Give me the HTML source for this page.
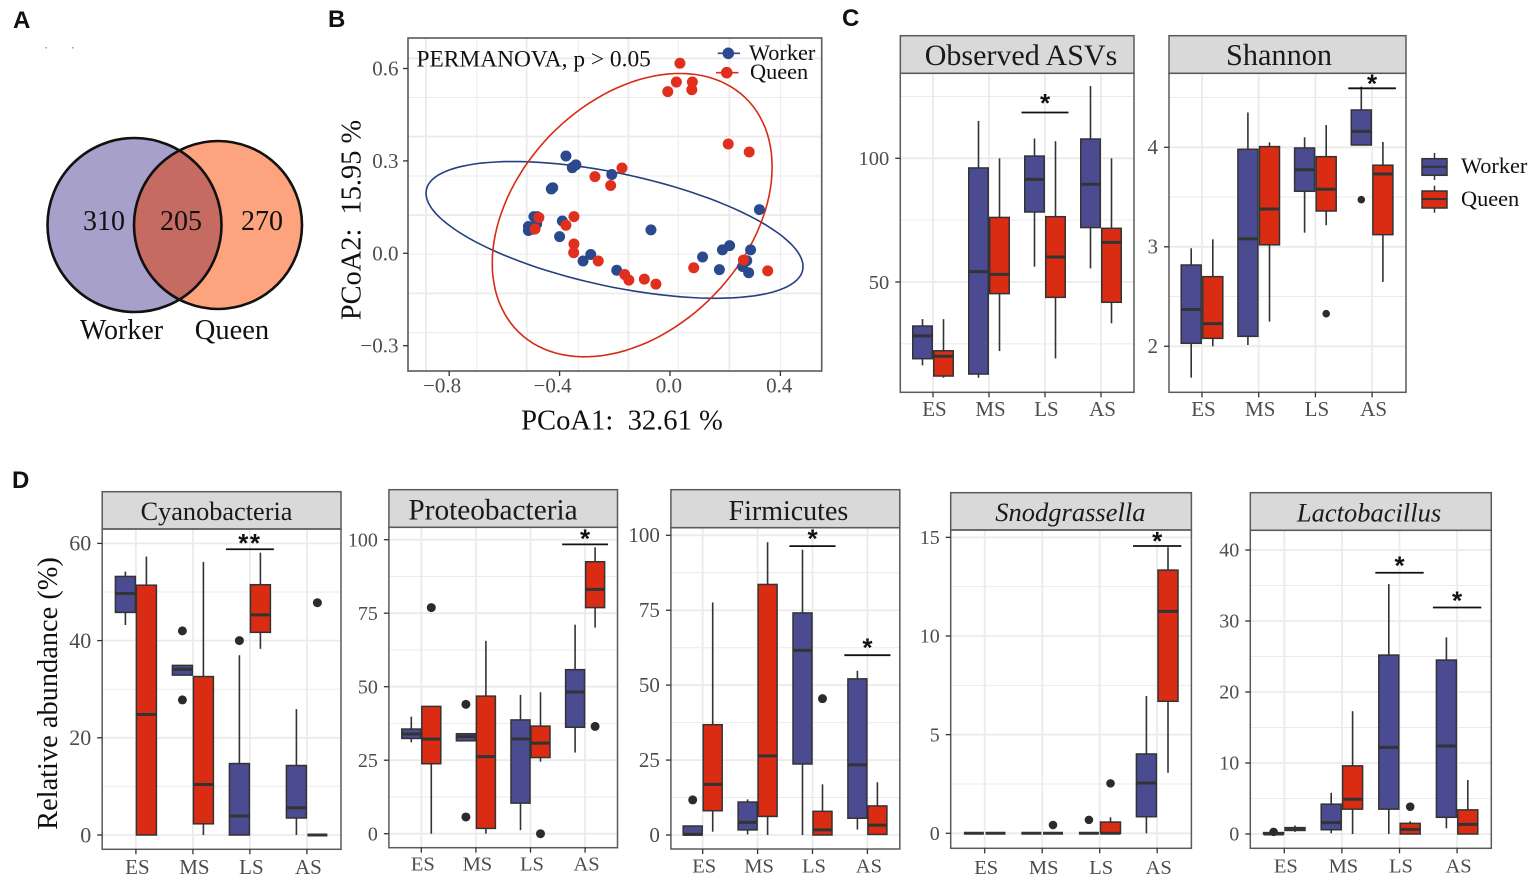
<!DOCTYPE html>
<html lang="en">
<head>
<meta charset="utf-8">
<title>Gut microbiota of worker and queen bees</title>
<style>
html,body{margin:0;padding:0;background:#fff;}
#figure{display:block;width:1535px;height:880px;font-family:"Liberation Serif",serif;}
.tick-label{fill:#4d4d4d;}
</style>
</head>
<body>
<svg id="figure" xmlns="http://www.w3.org/2000/svg" width="1535" height="880" viewBox="0 0 1535 880">
  <rect x="0" y="0" width="1535" height="880" fill="#ffffff"/>
  <g font-family="'Liberation Sans',sans-serif" font-weight="700" font-size="24" fill="#111">
    <text x="13" y="28">A</text>
    <text x="328" y="27">B</text>
    <text x="842" y="26">C</text>
    <text x="12" y="488">D</text>
  </g>
  <g>
    <defs>
      <clipPath id="left-clip"><circle cx="134.5" cy="225" r="87"/></clipPath>
    </defs>
    <rect x="45.5" y="47" width="1.5" height="1.5" fill="#999"/>
    <rect x="72" y="47" width="1.5" height="1.5" fill="#999"/>
    <circle cx="134.5" cy="225" r="87" fill="#a7a0cb"/>
    <circle cx="218" cy="225" r="84" fill="#fda37e"/>
    <circle cx="218" cy="225" r="84" fill="#c66b62" clip-path="url(#left-clip)"/>
    <circle cx="134.5" cy="225" r="87" fill="none" stroke="#111" stroke-width="2.6"/>
    <circle cx="218" cy="225" r="84" fill="none" stroke="#111" stroke-width="2.6"/>
    <g font-size="28" fill="#111" text-anchor="middle">
      <text x="104" y="230">310</text>
      <text x="181" y="230">205</text>
      <text x="262" y="230">270</text>
      <text x="121.5" y="339" font-size="28">Worker</text>
      <text x="232" y="339" font-size="28.5">Queen</text>
    </g>
  </g>
  <g id="pcoa"></g>
  <g id="boxes"></g>
  <g>
    <g>
      <line x1="1434.5" x2="1434.5" y1="153" y2="180" stroke="#333" stroke-width="1.5"/>
      <rect x="1422" y="158.7" width="25" height="16.6" fill="#4a4b90" stroke="#333" stroke-width="1.5"/>
      <line x1="1422" x2="1447" y1="166.7" y2="166.7" stroke="#333" stroke-width="2"/>
      <text x="1461" y="173" font-size="22.3" fill="#111">Worker</text>
    </g>
    <g>
      <line x1="1434.5" x2="1434.5" y1="185.7" y2="212.7" stroke="#333" stroke-width="1.5"/>
      <rect x="1422" y="191" width="25" height="17" fill="#da2c13" stroke="#333" stroke-width="1.5"/>
      <line x1="1422" x2="1447" y1="199" y2="199" stroke="#333" stroke-width="2"/>
      <text x="1461" y="206" font-size="22.3" fill="#111">Queen</text>
    </g>
  </g>
</svg>
<script>
/* ---------- PCoA data ---------- */
const pcoaWorkerX = [-0.377,-0.341,-0.354,-0.211,-0.425,-0.430,-0.493,-0.481,-0.483,-0.513,-0.513,-0.495,-0.390,-0.400,-0.287,-0.315,-0.193,-0.069,0.118,0.190,0.216,0.292,0.278,0.263,0.285,0.179,0.324];
const pcoaWorkerY = [0.316,0.287,0.278,0.256,0.213,0.209,0.119,0.119,0.095,0.087,0.074,0.078,0.105,0.054,-0.004,-0.025,-0.055,0.076,-0.012,0.011,0.025,0.011,-0.024,-0.043,-0.063,-0.053,0.142];
const pcoaQueenX = [0.036,0.023,0.081,-0.008,0.079,0.211,0.287,-0.174,-0.272,-0.215,-0.475,-0.489,-0.348,-0.377,-0.348,-0.349,-0.260,-0.164,-0.149,-0.093,-0.051,0.086,0.266,0.354];
const pcoaQueenY = [0.617,0.556,0.556,0.525,0.531,0.355,0.329,0.277,0.249,0.220,0.116,0.079,0.119,0.091,0.030,0.002,-0.025,-0.069,-0.087,-0.084,-0.100,-0.047,-0.022,-0.057];
/* ellipse: centre x, centre y, x radius, y radius, correlation */
const pcoaWorkerEllipse = [-0.201,0.076,0.683,0.222,-0.537];
const pcoaQueenEllipse = [-0.137,0.124,0.507,0.460,0.34];
const pcoaXTicks = [-0.8,-0.4,0,0.4];
const pcoaYTicks = [-0.3,0,0.3,0.6];
const pcoaGridX = [-0.884,-0.700,-0.519,-0.332,-0.151,0.030,0.215,0.400];
const pcoaGridY = [0.633,0.506,0.379,0.251,0.124,-0.003,-0.130,-0.258];

/* ---------- Boxplot data: [low whisker, q1, median, q3, high whisker] ---------- */
const stages = ['ES','MS','LS','AS'];

const asvWorker = [[16.3,19,28.2,32.2,35],[11.3,12.8,54.2,96.1,115.1],[56.2,78.3,91.5,100.9,108],[55.5,72,89.5,107.8,129.2]];
const asvQueen = [[11.3,12,20,22.2,35],[22.1,45.3,53.1,76.1,100],[19.1,43.8,60.1,76.4,106.9],[33.3,41.8,66,71.7,100]];
const asvOutliers = [];
const asvSig = [[2,118.5,'*']];
const asvTicks = [50,100];
const asvMinor = [25,75,125];

const shannonWorker = [[1.685,2.03,2.37,2.817,2.985],[2.013,2.10,3.08,3.98,4.35],[3.142,3.558,3.775,3.993,4.10],[4.023,4.023,4.16,4.375,4.61]];
const shannonQueen = [[2.0,2.08,2.228,2.70,3.075],[2.248,3.02,3.38,4.007,4.05],[3.216,3.36,3.578,3.906,4.224],[2.647,3.122,3.732,3.82,4.054]];
const shannonOutliers = [[2,1,2.328],[3,0,3.474]];
const shannonSig = [[3,4.593,'*']];
const shannonTicks = [2,3,4];
const shannonMinor = [2.5,3.5,4.5];

const cyanoWorker = [[43.2,45.8,49.7,53.2,54.2],[32.9,32.9,34.1,34.9,34.9],[0,0,3.9,14.7,37],[0,3.5,5.6,14.3,25.9]];
const cyanoQueen = [[0,0,24.8,51.4,57.3],[0,2.3,10.4,32.6,56.2],[38.3,41.7,45.3,51.5,58.1],[0,0,0,0,0]];
const cyanoOutliers = [[1,0,42],[1,0,27.8],[2,0,40],[3,1,47.8]];
const cyanoSig = [[2,58.8,'**']];
const cyanoTicks = [0,20,40,60];
const cyanoMinor = [10,30,50];

const proteoWorker = [[31.1,32.4,33.9,35.6,39.8],[31.6,31.6,33,34,34],[1.2,10.4,32.2,38.7,47.2],[27.6,36.2,48.2,55.8,71.1]];
const proteoQueen = [[0,23.8,32.2,43.3,43.3],[0,1.8,26.2,46.8,65.6],[24.5,25.9,30.8,36.6,48.1],[70.1,76.9,83.1,92.5,97.4]];
const proteoOutliers = [[0,1,76.9],[1,0,44],[1,0,5.7],[2,1,0],[3,1,36.5]];
const proteoSig = [[3,98.4,'*']];
const proteoTicks = [0,25,50,75,100];
const proteoMinor = [12.5,37.5,62.5,87.5];

const firmWorker = [[0,0,0.2,3,3],[0.2,1.7,4.2,11,11.9],[0,23.7,61.6,74.1,95.2],[1.8,5.6,23.4,52.1,54.8]];
const firmQueen = [[1.1,8.1,16.9,36.8,77.6],[0,6.2,26.4,83.6,97.7],[0,0,1.7,7.9,16.9],[0.2,0.2,3.3,9.7,17.6]];
const firmOutliers = [[0,0,11.7],[2,1,45.5]];
const firmSig = [[2,96.4,'*'],[3,60,'*']];
const firmTicks = [0,25,50,75,100];
const firmMinor = [12.5,37.5,62.5,87.5];

const snodWorker = [[0,0,0,0,0],[0,0,0,0,0],[0,0,0,0,0],[0,0.84,2.55,4.02,6.96]];
const snodQueen = [[0,0,0,0,0],[0,0,0,0,0],[0,0,0,0.57,0.81],[3.07,6.69,11.25,13.34,14.5]];
const snodOutliers = [[1,1,0.42],[2,0,0.68],[2,1,2.53]];
const snodSig = [[3,14.56,'*']];
const snodTicks = [0,5,10,15];
const snodMinor = [2.5,7.5,12.5];

const lactoWorker = [[0,0,0,0.2,0.2],[0.1,0.6,1.6,4.2,5.8],[0,3.5,12.2,25.2,35.2],[0.8,2.35,12.4,24.5,27.7]];
const lactoQueen = [[0.3,0.5,0.7,0.9,1.2],[0,3.5,4.9,9.6,17.3],[0,0,0.65,1.5,1.8],[0,0,1.35,3.4,7.6]];
const lactoOutliers = [[0,0,0.3],[2,1,3.85]];
const lactoSig = [[2,36.8,'*'],[3,31.9,'*']];
const lactoTicks = [0,10,20,30,40];
const lactoMinor = [5,15,25,35];

/* ---------- Panel layout ---------- */
const panels = [
  {key:'observed-asvs',title:'Observed ASVs',titleX:1021,titleBase:65,titleSize:30,left:900.3,right:1134,top:35.7,stripBottom:73.3,bottom:392.3,y0:405.7,yUnit:2.474,x0:933,step:56,off:10.5,w:19.5,labelY:416,tickSize:20.5,xSize:21,r:3.8,starGap:12.5,
   worker:asvWorker,queen:asvQueen,outliers:asvOutliers,sig:asvSig,ticks:asvTicks,minor:asvMinor},
  {key:'shannon',title:'Shannon',titleX:1279,titleBase:65,titleSize:30.3,left:1169,right:1406,top:35.7,stripBottom:73.3,bottom:392.3,y0:545.3,yUnit:99.5,x0:1202,step:56.7,off:10.8,w:20,labelY:416,tickSize:21,xSize:21,r:3.8,starGap:7.6,
   worker:shannonWorker,queen:shannonQueen,outliers:shannonOutliers,sig:shannonSig,ticks:shannonTicks,minor:shannonMinor},
  {key:'cyanobacteria',title:'Cyanobacteria',titleX:216.5,titleBase:520,titleSize:26.3,left:102.2,right:341,top:491.7,stripBottom:529,bottom:849.3,y0:835,yUnit:4.86,x0:135.9,step:57,off:10.5,w:20,labelY:874,tickSize:22,xSize:21,r:4.5,starGap:9,
   worker:cyanoWorker,queen:cyanoQueen,outliers:cyanoOutliers,sig:cyanoSig,ticks:cyanoTicks,minor:cyanoMinor},
  {key:'proteobacteria',title:'Proteobacteria',titleX:493,titleBase:519.7,titleSize:29.3,left:388.9,right:617.5,top:489.7,stripBottom:527.3,bottom:847.7,y0:833.7,yUnit:2.94,x0:421.3,step:54.6,off:10,w:19,labelY:870.7,tickSize:20,xSize:20.5,r:4.5,starGap:9,
   worker:proteoWorker,queen:proteoQueen,outliers:proteoOutliers,sig:proteoSig,ticks:proteoTicks,minor:proteoMinor},
  {key:'firmicutes',title:'Firmicutes',titleX:788.4,titleBase:520,titleSize:28,left:670.9,right:899.8,top:489.7,stripBottom:527.7,bottom:849,y0:835,yUnit:2.997,x0:702.7,step:54.9,off:10,w:19,labelY:872.7,tickSize:21,xSize:20.5,r:4.5,starGap:10.5,
   worker:firmWorker,queen:firmQueen,outliers:firmOutliers,sig:firmSig,ticks:firmTicks,minor:firmMinor},
  {key:'snodgrassella',title:'Snodgrassella',italic:true,titleX:1070.4,titleBase:521,titleSize:26.5,left:950.7,right:1191.4,top:492.7,stripBottom:530,bottom:848.3,y0:833.3,yUnit:19.73,x0:984.7,step:57.5,off:10.8,w:20,labelY:874,tickSize:20,xSize:20.5,r:4.3,starGap:8,
   worker:snodWorker,queen:snodQueen,outliers:snodOutliers,sig:snodSig,ticks:snodTicks,minor:snodMinor},
  {key:'lactobacillus',title:'Lactobacillus',italic:true,titleX:1369,titleBase:521.7,titleSize:26.5,left:1250.3,right:1491.3,top:492.7,stripBottom:530.3,bottom:848.3,y0:834,yUnit:7.1,x0:1284.3,step:57.6,off:10.7,w:20,labelY:872.7,tickSize:20,xSize:20.5,r:4.3,starGap:10
   ,worker:lactoWorker,queen:lactoQueen,outliers:lactoOutliers,sig:lactoSig,ticks:lactoTicks,minor:lactoMinor}
];

const NS = 'http://www.w3.org/2000/svg';
const WORKER_FILL = '#4a4b90';
const QUEEN_FILL = '#da2c13';
const INK = '#333333';
const FRAME = '#5a5a5a';
const GRID = '#ebebeb';

function svgEl(tag, attrs, parent, text) {
  const e = document.createElementNS(NS, tag);
  for (const k in attrs) e.setAttribute(k, attrs[k]);
  if (text !== undefined) e.textContent = text;
  parent.appendChild(e);
  return e;
}

/* ---------- PCoA ---------- */
function drawPcoa() {
  const root = document.getElementById('pcoa');
  const frame = {l:408, r:821.7, t:38, b:371};
  const px = v => 670 + 276 * v;
  const py = v => 253.3 - 308 * v;

  pcoaGridX.forEach((v, i) => {
    const g = svgEl('line', {x1:px(v), x2:px(v), y1:frame.t, y2:frame.b, stroke:GRID, 'stroke-width': i % 2 ? 1 : 1.8}, root);
    
    
  });
  pcoaGridY.forEach((v, i) => {
    const g = svgEl('line', {x1:frame.l, x2:frame.r, y1:py(v), y2:py(v), stroke:GRID, 'stroke-width': i % 2 ? 1 : 1.8}, root);
    
    
  });

  function ellipse(params, color, name) {
    const phi = Math.acos(params[4]);
    const pts = [];
    for (let i = 0; i <= 120; i++) {
      const t = i / 120 * 2 * Math.PI;
      const vx = params[0] + params[2] * Math.cos(t);
      const vy = params[1] + params[3] * Math.cos(t - phi);
      pts.push(px(vx).toFixed(1) + ',' + py(vy).toFixed(1));
    }
    const e = svgEl('polygon', {points:pts.join(' '), fill:'none', stroke:color, 'stroke-width':1.6}, root);
    
    
  }
  ellipse(pcoaWorkerEllipse, '#24407f', 'worker-ellipse');
  ellipse(pcoaQueenEllipse, '#d82a14', 'queen-ellipse');

  pcoaWorkerX.forEach((v, i) => {
    const c = svgEl('circle', {cx:px(v), cy:py(pcoaWorkerY[i]), r:5.5, fill:'#2b4a8d'}, root);
    
    
  });
  pcoaQueenX.forEach((v, i) => {
    const c = svgEl('circle', {cx:px(v), cy:py(pcoaQueenY[i]), r:5.5, fill:'#e02f1c'}, root);
    
    
  });

  const box = svgEl('rect', {x:frame.l, y:frame.t, width:frame.r-frame.l, height:frame.b-frame.t, fill:'none', stroke:FRAME, 'stroke-width':1.6}, root);
  
  

  const fmt = v => (v < 0 ? '\u2212' : '') + Math.abs(v).toFixed(1);
  pcoaXTicks.forEach(v => {
    const t = svgEl('line', {x1:px(v), x2:px(v), y1:frame.b, y2:frame.b+5, stroke:INK, 'stroke-width':1.3}, root);
    
    
    const l = svgEl('text', {x:px(v)+12, y:392.5, 'text-anchor':'end', 'font-size':21, class:'tick-label'}, root, fmt(v));
    
    
  });
  pcoaYTicks.forEach(v => {
    const t = svgEl('line', {x1:frame.l-5, x2:frame.l, y1:py(v), y2:py(v), stroke:INK, 'stroke-width':1.3}, root);
    
    
    const l = svgEl('text', {x:398.5, y:py(v)+7, 'text-anchor':'end', 'font-size':21, class:'tick-label'}, root, fmt(v));
    
    
  });

  const xt = svgEl('text', {x:622, y:429.5, 'text-anchor':'middle', 'font-size':28.6, fill:'#111', style:'white-space:pre'}, root, 'PCoA1:  32.61 %');
  
  
  const yt = svgEl('text', {x:0, y:0, 'text-anchor':'middle', 'font-size':28.4, fill:'#111', style:'white-space:pre', transform:'translate(360.5 220) rotate(-90)'}, root, 'PCoA2:  15.95 %');
  
  

  const perm = svgEl('text', {x:416.5, y:66.5, 'font-size':23.4, fill:'#111'}, root, 'PERMANOVA, p > 0.05');
  
  

  const keyW = svgEl('line', {x1:717.7, x2:740, y1:53.3, y2:53.3, stroke:'#2b4a8d', 'stroke-width':1.6}, root);
  
  
  const dotW = svgEl('circle', {cx:728.3, cy:53.3, r:5.8, fill:'#2b4a8d'}, root);
  
  
  const txtW = svgEl('text', {x:749, y:60, 'font-size':22.3, fill:'#111'}, root, 'Worker');
  
  
  const keyQ = svgEl('line', {x1:716, x2:738.5, y1:72.7, y2:72.7, stroke:'#e02f1c', 'stroke-width':1.6}, root);
  
  
  const dotQ = svgEl('circle', {cx:726.7, cy:72.7, r:5.8, fill:'#e02f1c'}, root);
  
  
  const txtQ = svgEl('text', {x:750, y:79, 'font-size':22.3, fill:'#111'}, root, 'Queen');
  
  
}

/* ---------- Box panels ---------- */
function drawBox(g, stats, cx, p, y, fill, name) {
  const bw = p.w / 2;
  const upper = svgEl('line', {x1:cx, x2:cx, y1:y(stats[3]), y2:y(stats[4]), stroke:INK, 'stroke-width':1.6}, g);
  
  
  const lower = svgEl('line', {x1:cx, x2:cx, y1:y(stats[1]), y2:y(stats[0]), stroke:INK, 'stroke-width':1.6}, g);
  
  
  const rect = svgEl('rect', {x:cx-bw, y:y(stats[3]), width:p.w, height:Math.max(0, y(stats[1])-y(stats[3])), fill:fill, stroke:INK, 'stroke-width':1.5}, g);
  
  
  const med = svgEl('line', {x1:cx-bw, x2:cx+bw, y1:y(stats[2]), y2:y(stats[2]), stroke:INK, 'stroke-width':3}, g);
  
  
}

function drawPanel(p, root) {
  const g = svgEl('g', {}, root);
  
  
  const y = v => p.y0 - p.yUnit * v;
  const x = i => p.x0 + p.step * i;

  p.minor.forEach(v => {
    const l = svgEl('line', {x1:p.left, x2:p.right, y1:y(v), y2:y(v), stroke:GRID, 'stroke-width':1}, g);
    
    
  });
  p.ticks.forEach(v => {
    const l = svgEl('line', {x1:p.left, x2:p.right, y1:y(v), y2:y(v), stroke:GRID, 'stroke-width':1.8}, g);
    
    
  });
  stages.forEach((s, i) => {
    const l = svgEl('line', {x1:x(i), x2:x(i), y1:p.stripBottom, y2:p.bottom, stroke:GRID, 'stroke-width':1.8}, g);
    
    
  });

  stages.forEach((s, i) => {
    drawBox(g, p.worker[i], x(i) - p.off, p, y, WORKER_FILL, p.key + '-' + s.toLowerCase() + '-worker');
    drawBox(g, p.queen[i], x(i) + p.off, p, y, QUEEN_FILL, p.key + '-' + s.toLowerCase() + '-queen');
  });

  p.outliers.forEach(o => {
    const c = svgEl('circle', {cx:x(o[0]) + (o[1] ? p.off : -p.off), cy:y(o[2]), r:p.r, fill:'#2b2b2b'}, g);
    
    
  });

  p.sig.forEach(b => {
    const half = 0.42 * p.step;
    const bar = svgEl('line', {x1:x(b[0])-half, x2:x(b[0])+half, y1:y(b[1]), y2:y(b[1]), stroke:'#111', 'stroke-width':1.8}, g);
    
    
    const st = svgEl('text', {x:x(b[0]), y:y(b[1]) - p.starGap + 12, 'text-anchor':'middle', 'font-family':"'Liberation Sans',sans-serif", 'font-weight':700, 'font-size':26, 'letter-spacing': b[2].length > 1 ? 1.5 : 0, fill:'#111'}, g, b[2]);
    
    
  });

  const strip = svgEl('rect', {x:p.left, y:p.top, width:p.right-p.left, height:p.stripBottom-p.top, fill:'#d9d9d9', stroke:FRAME, 'stroke-width':1.5}, g);
  
  
  const title = svgEl('text', {x:p.titleX, y:p.titleBase, 'text-anchor':'middle', 'font-size':p.titleSize, 'font-style':p.italic ? 'italic' : 'normal', fill:'#1a1a1a'}, g, p.title);
  
  
  const frame = svgEl('rect', {x:p.left, y:p.stripBottom, width:p.right-p.left, height:p.bottom-p.stripBottom, fill:'none', stroke:FRAME, 'stroke-width':1.5}, g);
  
  

  p.ticks.forEach(v => {
    const t = svgEl('line', {x1:p.left-5, x2:p.left, y1:y(v), y2:y(v), stroke:INK, 'stroke-width':1.3}, g);
    
    
    const l = svgEl('text', {x:p.left-11, y:y(v)+p.tickSize*0.33, 'text-anchor':'end', 'font-size':p.tickSize, class:'tick-label'}, g, String(v));
    
    
  });
  stages.forEach((s, i) => {
    const t = svgEl('line', {x1:x(i), x2:x(i), y1:p.bottom, y2:p.bottom+5, stroke:INK, 'stroke-width':1.3}, g);
    
    
    const l = svgEl('text', {x:x(i)+1.5, y:p.labelY, 'text-anchor':'middle', 'font-size':p.xSize, class:'tick-label'}, g, s);
    
    
  });
}

drawPcoa();
const boxRoot = document.getElementById('boxes');
panels.forEach(p => drawPanel(p, boxRoot));
const abundanceTitle = svgEl('text', {x:0, y:0, 'text-anchor':'middle', 'font-size':28.4, fill:'#111', transform:'translate(57 693.5) rotate(-90)'}, boxRoot, 'Relative abundance (%)');


</script>
</body>
</html>
